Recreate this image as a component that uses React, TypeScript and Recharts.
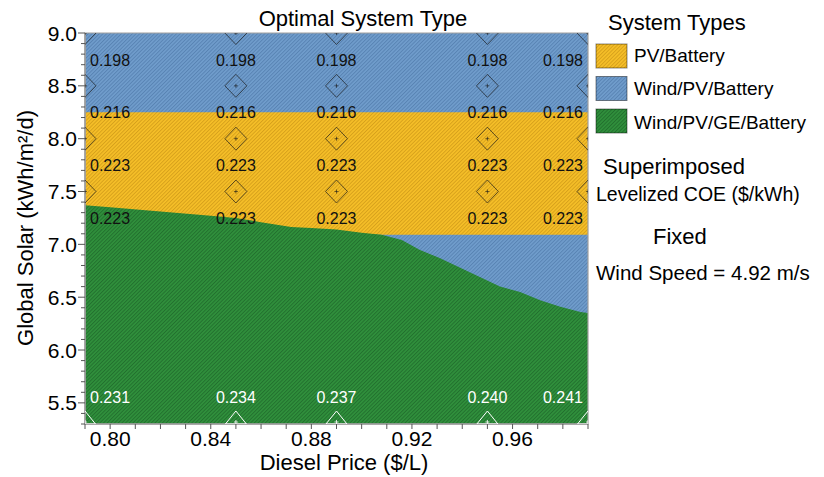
import React from "react";
import {
  Area,
  ComposedChart,
  ReferenceArea,
  Scatter,
  XAxis,
  YAxis,
} from "recharts";

// axis ranges
const priceMin = 0.79;
const priceMax = 0.99;
const solarMin = 5.3;
const solarMax = 9.0;

// region boundaries
const pvBatteryTop = 8.25;
const pvBatteryBottom = 7.09;
const boundaryPrices = [
  0.79, 0.8, 0.82, 0.84, 0.85, 0.86, 0.872, 0.88, 0.89, 0.9, 0.908, 0.916,
  0.923, 0.931, 0.939, 0.947, 0.955, 0.963, 0.971, 0.979, 0.987, 0.99,
];
const geBatteryTop = [
  7.37, 7.35, 7.31, 7.27, 7.25, 7.21, 7.165, 7.155, 7.14, 7.11, 7.09, 7.04,
  6.95, 6.87, 6.78, 6.69, 6.6, 6.55, 6.47, 6.41, 6.36, 6.35,
];

// superimposed levelized COE markers
const markerPrices = [0.79, 0.85, 0.89, 0.95, 0.99];
const markerSolar = [9.0, 8.5, 8.0, 7.5];
const markerCoe = [0.198, 0.216, 0.223, 0.223];
const bottomCoe = [0.231, 0.234, 0.237, 0.24, 0.241];

// ticks
const xTicks = [
  0.79, 0.8, 0.81, 0.82, 0.83, 0.84, 0.85, 0.86, 0.87, 0.88, 0.89, 0.9, 0.91,
  0.92, 0.93, 0.94, 0.95, 0.96, 0.97, 0.98, 0.99,
];
const xMajor = [0.8, 0.84, 0.88, 0.92, 0.96];
const yTicks = [
  5.3, 5.4, 5.5, 5.6, 5.7, 5.8, 5.9, 6.0, 6.1, 6.2, 6.3, 6.4, 6.5, 6.6, 6.7,
  6.8, 6.9, 7.0, 7.1, 7.2, 7.3, 7.4, 7.5, 7.6, 7.7, 7.8, 7.9, 8.0, 8.1, 8.2,
  8.3, 8.4, 8.5, 8.6, 8.7, 8.8, 8.9, 9.0,
];
const yMajor = [5.5, 6.0, 6.5, 7.0, 7.5, 8.0, 8.5, 9.0];

const systemTypes = ["PV/Battery", "Wind/PV/Battery", "Wind/PV/GE/Battery"];
const hatchIds = ["hatchYellow", "hatchBlue", "hatchGreen"];

const FONT = '"Liberation Sans", Arial, Helvetica, sans-serif';

const regionData = boundaryPrices.map((d, i) => ({
  d,
  wind: [solarMin, solarMax],
  pv: [pvBatteryBottom, pvBatteryTop],
  ge: [solarMin, geBatteryTop[i]],
}));

const diamondPoints = markerSolar.flatMap((s, j) =>
  markerPrices.map((d) => ({ d, s, coe: markerCoe[j] }))
);
const trianglePoints = markerPrices.map((d, i) => ({
  d,
  s: solarMin,
  coe: bottomCoe[i],
}));

const isIn = (list: number[], v: number) =>
  list.some((m) => Math.abs(m - v) < 1e-6);

function labelPlacement(d: number, cx: number) {
  if (d <= markerPrices[0] + 1e-6) return { x: cx + 5, anchor: "start" };
  if (d >= markerPrices[markerPrices.length - 1] - 1e-6)
    return { x: cx - 5, anchor: "end" };
  return { x: cx, anchor: "middle" };
}

function DiamondMark(props: any) {
  const { cx, cy, payload } = props;
  if (cx == null || cy == null) return <g />;
  const p = labelPlacement(payload.d, cx);
  const c = "rgba(25,25,25,0.75)";
  return (
    <g>
      <path
        d={`M${cx},${cy - 11.5}L${cx + 11},${cy}L${cx},${cy + 11.5}L${cx - 11},${cy}Z`}
        fill="none"
        stroke={c}
        strokeWidth={0.9}
      />
      <path
        d={`M${cx - 2},${cy}H${cx + 2}M${cx},${cy - 2}V${cy + 2}`}
        stroke={c}
        strokeWidth={0.8}
      />
      <text
        x={p.x}
        y={cy + 27}
        textAnchor={p.anchor}
        dominantBaseline="central"
        fontSize={16}
        fontFamily={FONT}
        fill="#111"
      >
        {payload.coe.toFixed(3)}
      </text>
    </g>
  );
}

function TriangleMark(props: any) {
  const { cx, cy, payload } = props;
  if (cx == null || cy == null) return <g />;
  const p = labelPlacement(payload.d, cx);
  return (
    <g>
      <path
        d={`M${cx - 10.5},${cy}L${cx},${cy - 13}L${cx + 10.5},${cy}Z`}
        fill="none"
        stroke="#fff"
        strokeWidth={1}
      />
      <path
        d={`M${cx - 2},${cy - 2}H${cx + 2}M${cx},${cy - 4}V${cy}`}
        stroke="#fff"
        strokeWidth={0.8}
      />
      <text
        x={p.x}
        y={cy - 27}
        textAnchor={p.anchor}
        dominantBaseline="central"
        fontSize={16}
        fontFamily={FONT}
        fill="#fff"
      >
        {payload.coe.toFixed(3)}
      </text>
    </g>
  );
}

function XTick(props: any) {
  const { x, y, payload } = props;
  const major = isIn(xMajor, payload.value);
  return (
    <g>
      <line x1={x} y1={y} x2={x} y2={y + 5} stroke="#555" strokeWidth={1} />
      {major && (
        <text
          x={x}
          y={y + 14}
          textAnchor="middle"
          dominantBaseline="central"
          fontSize={21}
          fontFamily={FONT}
          fill="#000"
        >
          {payload.value.toFixed(2)}
        </text>
      )}
    </g>
  );
}

function YTick(props: any) {
  const { x, y, payload } = props;
  const major = isIn(yMajor, payload.value);
  return (
    <g>
      <line
        x1={x - (major ? 7 : 4)}
        y1={y}
        x2={x}
        y2={y}
        stroke="#555"
        strokeWidth={1}
      />
      {major && (
        <text
          x={x - 8}
          y={y}
          textAnchor="end"
          dominantBaseline="central"
          fontSize={21}
          fontFamily={FONT}
          fill="#000"
        >
          {payload.value.toFixed(1)}
        </text>
      )}
    </g>
  );
}

function Hatch({ id, base, line }: { id: string; base: string; line: string }) {
  return (
    <pattern
      id={id}
      width={2.6}
      height={2.6}
      patternUnits="userSpaceOnUse"
      patternTransform="rotate(45)"
    >
      <rect width={2.6} height={2.6} fill={base} />
      <line x1={0.5} y1={0} x2={0.5} y2={2.6} stroke={line} strokeWidth={0.9} />
    </pattern>
  );
}

export default function App() {
  return (
    <div
      style={{
        position: "absolute",
        left: 0,
        top: 0,
        width: 824,
        height: 477,
        background: "#fff",
      }}
    >
      <ComposedChart
        width={824}
        height={477}
        data={regionData}
        margin={{ top: 33, right: 236, left: 0, bottom: 0 }}
      >
        <defs>
          <Hatch id="hatchYellow" base="#F6BF28" line="#D49E1A" />
          <Hatch id="hatchBlue" base="#709DCC" line="#5681B2" />
          <Hatch id="hatchGreen" base="#30903C" line="#216E2D" />
        </defs>
        <XAxis
          dataKey="d"
          type="number"
          domain={[priceMin, priceMax]}
          ticks={xTicks}
          interval={0}
          allowDataOverflow
          height={53}
          tickSize={0}
          tickMargin={0}
          tickLine={false}
          tick={<XTick />}
          axisLine={{ stroke: "#9c9c9c", strokeWidth: 1.5 }}
        />
        <YAxis
          type="number"
          domain={[solarMin, solarMax]}
          ticks={yTicks}
          interval={0}
          allowDataOverflow
          width={85}
          tickSize={0}
          tickMargin={0}
          tickLine={false}
          tick={<YTick />}
          axisLine={{ stroke: "#9c9c9c", strokeWidth: 1.5 }}
        />
        <Area
          dataKey="wind"
          type="linear"
          stroke="none"
          fill="url(#hatchBlue)"
          fillOpacity={1}
          dot={false}
          activeDot={false}
          isAnimationActive={false}
        />
        <Area
          dataKey="pv"
          type="linear"
          stroke="none"
          fill="url(#hatchYellow)"
          fillOpacity={1}
          dot={false}
          activeDot={false}
          isAnimationActive={false}
        />
        <Area
          dataKey="ge"
          type="linear"
          stroke="none"
          fill="url(#hatchGreen)"
          fillOpacity={1}
          dot={false}
          activeDot={false}
          isAnimationActive={false}
        />
        <ReferenceArea
          x1={priceMin}
          x2={priceMax}
          y1={solarMin}
          y2={solarMax}
          fill="none"
          stroke="#a0a0a0"
          strokeWidth={1.2}
          ifOverflow="visible"
        />
        <Scatter
          data={diamondPoints}
          dataKey="s"
          shape={DiamondMark}
          isAnimationActive={false}
          legendType="none"
        />
        <Scatter
          data={trianglePoints}
          dataKey="s"
          shape={TriangleMark}
          isAnimationActive={false}
          legendType="none"
        />
      </ComposedChart>
      <svg
        width={824}
        height={477}
        style={{ position: "absolute", left: 0, top: 0, pointerEvents: "none" }}
        fontFamily={FONT}
      >
        <text x={363} y={18} textAnchor="middle" dominantBaseline="central" fontSize={22}>
          Optimal System Type
        </text>
        <text
          x={344}
          y={462}
          textAnchor="middle"
          dominantBaseline="central"
          fontSize={22}
        >
          Diesel Price ($/L)
        </text>
        <text
          transform="translate(25,228) rotate(-90)"
          textAnchor="middle"
          dominantBaseline="central"
          fontSize={22}
        >
          Global Solar (kWh/m²/d)
        </text>
        <text x={608} y={22} dominantBaseline="central" fontSize={22}>
          System Types
        </text>
        {systemTypes.map((name, i) => (
          <g key={name}>
            <rect
              x={596}
              y={44 + i * 32.5}
              width={31}
              height={24}
              fill={`url(#${hatchIds[i]})`}
              stroke="rgba(0,0,0,0.45)"
              strokeWidth={1}
            />
            <text
              x={634}
              y={55 + i * 33.5}
              dominantBaseline="central"
              fontSize={19}
            >
              {name}
            </text>
          </g>
        ))}
        <text x={603} y={166} dominantBaseline="central" fontSize={22}>
          Superimposed
        </text>
        <text x={596} y={193.5} dominantBaseline="central" fontSize={19.5}>
          Levelized COE ($/kWh)
        </text>
        <text x={653} y={236.5} dominantBaseline="central" fontSize={22}>
          Fixed
        </text>
        <text x={596} y={272} dominantBaseline="central" fontSize={20.5}>
          Wind Speed = 4.92 m/s
        </text>
      </svg>
    </div>
  );
}
